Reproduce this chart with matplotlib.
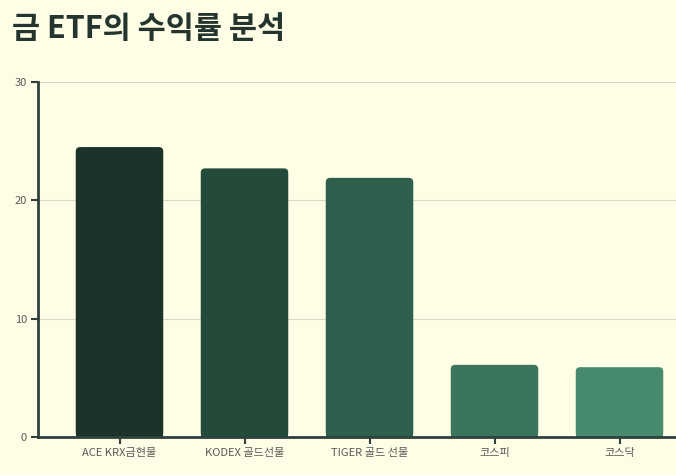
import matplotlib
matplotlib.use("Agg")
import matplotlib.pyplot as plt
from matplotlib.patches import FancyBboxPatch
import numpy as np

# 데이터
categories = ["ACE KRX금현물", "KODEX 골드선물", "TIGER 골드 선물", "코스피", "코스닥"]
returns = [24.5, 22.7, 21.9, 6.1, 5.9]
bar_colors = ["#1b3329", "#244a3a", "#2e5e4c", "#3a755c", "#478a6e"]
y_ticks = [0, 10, 20, 30]

plt.rcParams["font.family"] = ["Noto Sans CJK KR", "DejaVu Sans"]

BG = "#fefde6"
DARK = "#2f403d"


def main():
    fig = plt.figure(figsize=(6.76, 4.75), dpi=100, facecolor=BG)
    ax = fig.add_axes([38 / 676, 38 / 475, 1 - 38 / 676, 355 / 475])
    ax.set_facecolor(BG)

    x = np.arange(len(categories))
    bars = ax.bar(x, returns, width=0.7, color=bar_colors, zorder=3)

    ax.set_xlim(-0.652, 4.452)
    ax.set_ylim(0, 30)

    # 둥근 모서리 (위쪽만 보이도록 아래는 축선에 가려짐)
    for b in bars:
        bx, by = b.get_x(), b.get_y()
        w, h = b.get_width(), b.get_height()
        b.set_visible(False)
        p = FancyBboxPatch((bx, by), w, h,
                           boxstyle="round,pad=0,rounding_size=0.035",
                           mutation_aspect=30 / 355 * 125 / 1,
                           facecolor=b.get_facecolor(), edgecolor="none",
                           zorder=3)
        ax.add_patch(p)
        ax.bar(bx + w / 2, min(h, 0.5), width=w, color=b.get_facecolor(), zorder=3)

    ax.set_xticks(x)
    ax.set_xticklabels(categories, fontsize=8, color="#5a5a5a")
    ax.set_yticks(y_ticks)
    ax.set_yticklabels([str(v) for v in y_ticks], fontsize=8, color="#5a5a5a")
    ax.grid(axis="y", color="#d9d9c8", linewidth=0.8, zorder=0)
    ax.tick_params(axis="both", color=DARK, length=5, width=1.5, pad=3)

    # 축선
    for side in ["top", "right"]:
        ax.spines[side].set_visible(False)
    for side in ["left", "bottom"]:
        ax.spines[side].set_color(DARK)
        ax.spines[side].set_linewidth(2)
        ax.spines[side].set_zorder(5)

    fig.text(12 / 676, 1 - 29 / 475, "금 ETF의 수익률 분석", fontsize=22,
             fontweight="bold", color="#24352f", va="center", ha="left")

    fig.savefig("out.png", dpi=100, facecolor=BG)
    plt.close(fig)


if __name__ == "__main__":
    main()
